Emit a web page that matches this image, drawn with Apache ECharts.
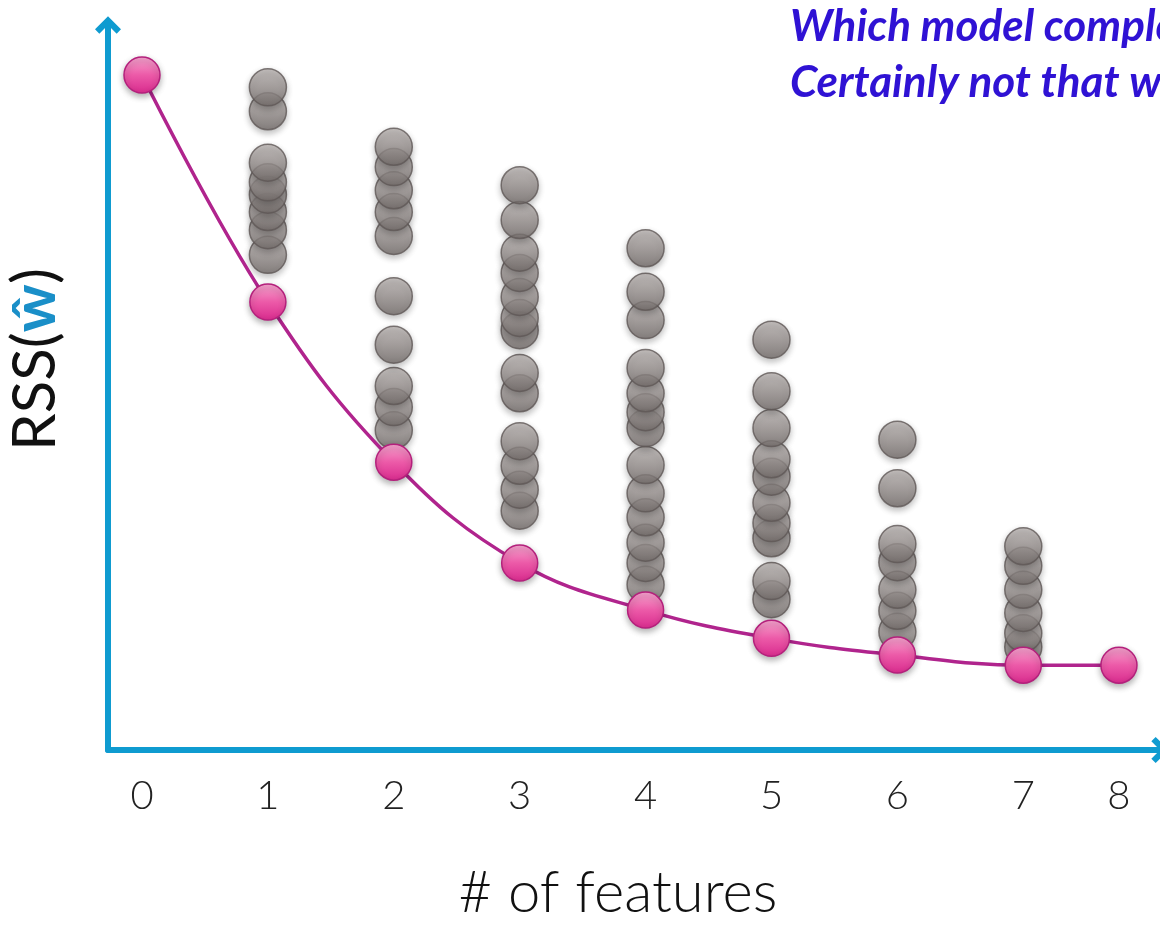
<!DOCTYPE html>
<html>
<head>
<meta charset="utf-8">
<script src="https://cdn.jsdelivr.net/npm/echarts@6/dist/echarts.min.js"></script>
<style>
html,body{margin:0;padding:0;background:#fff;}
#chart{width:1160px;height:926px;}
</style>
</head>
<body>
<div id="chart"></div>
<script>
// Tick labels (number of features) and where each sits on the x scale
var featureLabels = ['0','1','2','3','4','5','6','7','8'];
var featureSlots = [0, 1, 2, 3, 4, 5, 6, 7, 7.76];

// Best RSS for each number of features (pink curve)
var bestRSS = [93.1, 61.8, 39.7, 25.8, 19.3, 15.4, 13.1, 11.7, 11.7];

// RSS of every candidate model, grouped by number of features (grey dots)
var rss1 = [91.4, 88.1, 81.0, 78.3, 76.6, 74.2, 71.7, 68.3];
var rss2 = [83.2, 80.4, 77.2, 74.2, 70.9, 62.6, 55.9, 50.2, 47.3, 44.1];
var rss3 = [77.9, 73.1, 68.6, 65.8, 62.5, 59.6, 57.9, 52.0, 49.2, 42.6, 39.2, 35.9, 33.0];
var rss4 = [69.2, 63.2, 59.3, 52.7, 49.2, 46.6, 44.4, 39.3, 35.4, 32.1, 28.6, 25.8, 22.8];
var rss5 = [56.6, 49.5, 44.4, 40.1, 37.7, 34.1, 31.3, 29.2, 23.3, 20.8];
var rss6 = [42.8, 36.1, 28.4, 25.9, 22.1, 19.2, 16.3];
var rss7 = [28.1, 25.4, 22.1, 18.9, 16.1, 14.2];
var candidateCols = [[1, rss1], [2, rss2], [3, rss3], [4, rss4], [5, rss5], [6, rss6], [7, rss7]];

var titleLines = ['Which model complexity to choose?', 'Certainly not that with smallest RSS!!'];

var greyData = [];
candidateCols.forEach(function (c) {
  var xs = featureSlots[c[0]];
  c[1].slice().sort(function (a, b) { return a - b; }).forEach(function (v) {
    greyData.push([xs, v]);
  });
});
var bestData = bestRSS.map(function (v, i) { return [featureSlots[i], v]; });

var axisBlue = '#0f9bd0';
var chevron = 'path://M0,12 L12,0 L24,12 L20,16 L12,8 L4,16 Z';

var chart = echarts.init(document.getElementById('chart'));
chart.setOption({
  backgroundColor: '#ffffff',
  animation: false,
  grid: { left: 108, right: 0, top: 25, bottom: 176, containLabel: false, outerBoundsMode: 'none' },
  xAxis: {
    type: 'value',
    min: -0.27, max: 8.086,
    splitLine: { show: false },
    axisLine: { show: true, onZero: false, lineStyle: { color: axisBlue, width: 6 }, symbol: ['none', chevron], symbolSize: [26, 20] },
    axisTick: { show: false },
    axisLabel: {
      customValues: featureSlots,
      formatter: function (v) {
        var i = featureSlots.indexOf(v);
        return i >= 0 ? featureLabels[i] : '';
      },
      fontSize: 40, color: '#222', fontFamily: 'Lato', fontWeight: 300, margin: 26
    },
    name: '# of features',
    nameLocation: 'middle',
    nameGap: 114,
    nameTextStyle: { fontSize: 58, color: '#111', fontFamily: 'Lato', fontWeight: 300, padding: [0, 32, 0, 0] }
  },
  yAxis: {
    type: 'value',
    min: 0, max: 100,
    splitLine: { show: false },
    axisLine: { show: true, onZero: false, lineStyle: { color: axisBlue, width: 6 }, symbol: ['none', chevron], symbolSize: [26, 20] },
    axisTick: { show: false },
    axisLabel: { show: false },
    name: 'RSS({w|ŵ})',
    nameLocation: 'middle',
    nameRotate: 90,
    nameGap: 42,
    nameTextStyle: {
      fontSize: 60, color: '#111', fontFamily: 'Lato', fontWeight: 'normal', padding: [0, 0, 0, 56],
      rich: { w: { fontSize: 60, color: '#1a8fc8', fontWeight: 'bold', fontFamily: 'Lato' } }
    }
  },
  graphic: [
    {
      type: 'text', x: 790, y: 27, z: 10,
      style: { text: titleLines[0], font: 'italic bold 44px Lato', fill: '#2f12d4', verticalAlign: 'middle' }
    },
    {
      type: 'text', x: 790, y: 83, z: 10,
      style: { text: titleLines[1], font: 'italic bold 44px Lato', fill: '#2f12d4', verticalAlign: 'middle' }
    }
  ],
  series: [
    {
      type: 'scatter',
      name: 'candidates',
      data: greyData,
      symbolSize: 37,
      z: 3,
      itemStyle: {
        color: new echarts.graphic.LinearGradient(0, 0, 0, 1, [
          { offset: 0, color: '#bdb7b5' },
          { offset: 0.5, color: '#9a9391' },
          { offset: 1, color: '#736c6a' }
        ]),
        borderColor: '#5f5856', borderWidth: 1.5,
        shadowBlur: 6, shadowColor: 'rgba(0,0,0,0.3)', shadowOffsetY: 3
      }
    },
    {
      type: 'line',
      name: 'best',
      data: bestData,
      smooth: 0.4,
      symbol: 'circle',
      symbolSize: 36,
      z: 5,
      lineStyle: { color: '#b0248d', width: 3.5 },
      itemStyle: {
        color: new echarts.graphic.LinearGradient(0, 0, 0, 1, [
          { offset: 0, color: '#f6a6cf' },
          { offset: 0.5, color: '#ec5aa8' },
          { offset: 1, color: '#d82a8d' }
        ]),
        borderColor: '#b4207c', borderWidth: 1.5,
        shadowBlur: 6, shadowColor: 'rgba(0,0,0,0.3)', shadowOffsetY: 3
      }
    }
  ]
});
</script>
</body>
</html>
